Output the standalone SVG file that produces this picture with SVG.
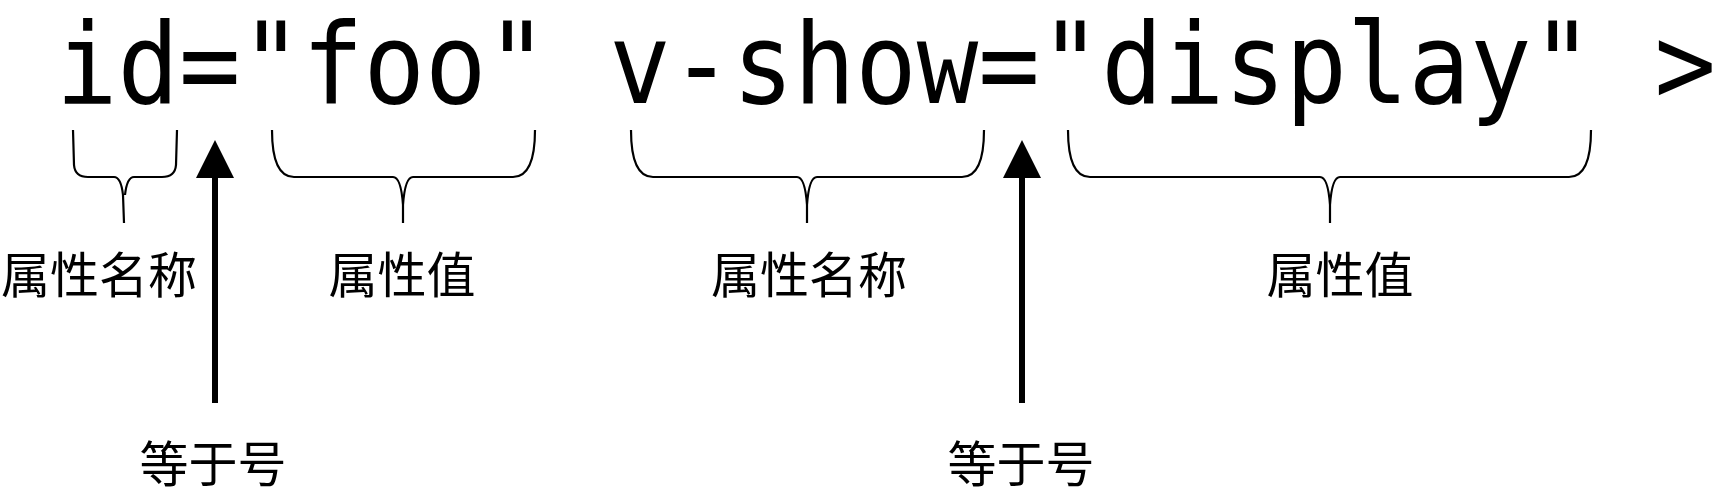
<svg xmlns="http://www.w3.org/2000/svg" width="1727" height="492" viewBox="0 0 1727 492">
<defs>
<style>
.code{font-family:"DejaVu Sans Mono","Liberation Mono",monospace;font-size:112px;fill:#000}
.lbl{font-family:"Noto Sans CJK SC","Noto Sans",sans-serif;font-size:49px;fill:#000;text-anchor:middle}
.brace{fill:none;stroke:#000;stroke-width:2.2}
.arrow{stroke:#000;stroke-width:6;fill:none}
</style>
</defs>
<rect width="1727" height="492" fill="#fff"/>
<g id="code"><text class="code" x="56" y="103" textLength="1660" lengthAdjust="spacingAndGlyphs">id="foo" v-show="display" &gt;</text></g>
<g id="connectors">
<path class="brace" d="M73,130 L74,165 Q75,177 88,177 L114,177 Q121,177 123,195 L124,223 M177,130 L176,165 Q175,177 162,177 L134,177 Q127,177 125,195"/>
<path class="brace" d="M272,130 Q272,177 294,177 L393,177 Q401,177 403,205 L403,223 M535,130 Q535,177 513,177 L413,177 Q405,177 403,205"/>
<path class="brace" d="M631,130 Q631,177 653,177 L797,177 Q805,177 807,205 L807,223 M984,130 Q984,177 962,177 L817,177 Q809,177 807,205"/>
<path class="brace" d="M1068,130 Q1068,177 1090,177 L1320,177 Q1328,177 1330,205 L1330,223 M1591,130 Q1591,177 1569,177 L1340,177 Q1332,177 1330,205"/>
<line class="arrow" x1="215" y1="403" x2="215" y2="178"/>
<polygon points="196,178 234,178 215,140" fill="#000"/>
<line class="arrow" x1="1022" y1="403" x2="1022" y2="178"/>
<polygon points="1003,178 1041,178 1022,140" fill="#000"/>
</g>
<g id="label-name1"><text class="lbl" x="99" y="293">属性名称</text></g>
<g id="label-value1"><text class="lbl" x="402" y="293">属性值</text></g>
<g id="label-name2"><text class="lbl" x="809" y="293">属性名称</text></g>
<g id="label-value2"><text class="lbl" x="1340" y="293">属性值</text></g>
<g id="label-eq1"><text class="lbl" x="213" y="482">等于号</text></g>
<g id="label-eq2"><text class="lbl" x="1021" y="482">等于号</text></g>
</svg>
